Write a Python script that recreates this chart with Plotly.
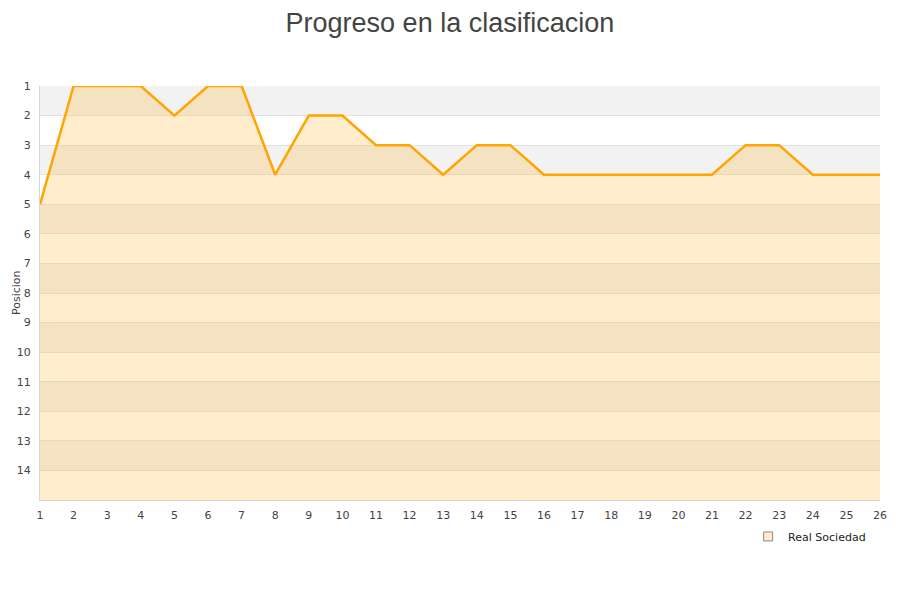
import plotly.graph_objects as go

jornadas = list(range(1, 27))
posiciones = [5, 1, 1, 1, 2, 1, 1, 4, 2, 2, 3, 3, 4, 3, 3, 4, 4, 4, 4, 4, 4, 3, 3, 4, 4, 4]
y_ticks = list(range(1, 15))
y_bottom = 15
team = "Real Sociedad"

fig = go.Figure()

# baseline for the fill
fig.add_trace(go.Scatter(x=jornadas, y=[y_bottom] * len(jornadas), mode="lines",
                         line=dict(width=0, color="rgba(0,0,0,0)"),
                         showlegend=False, hoverinfo="skip"))
fig.add_trace(go.Scatter(x=jornadas, y=posiciones, mode="lines", fill="tonexty",
                         fillcolor="rgba(255,165,0,0.2)",
                         line=dict(color="#ffa500", width=2.5),
                         showlegend=False, name=team, cliponaxis=False))
# legend entry
fig.add_trace(go.Scatter(x=[None], y=[None], mode="markers", name=team,
                         marker=dict(symbol="square", size=9, color="#ffedcc",
                                     line=dict(color="#888888", width=1))))

shapes = []
for i, v in enumerate(range(1, y_bottom)):
    if i % 2 == 0:
        shapes.append(dict(type="rect", xref="paper", yref="y", x0=0, x1=1,
                           y0=v, y1=v + 1, fillcolor="#f2f2f2", line=dict(width=0),
                           layer="below"))

fig.update_layout(
    width=900, height=600,
    paper_bgcolor="white", plot_bgcolor="white",
    margin=dict(l=32, r=28, t=78, b=108, autoexpand=False),
    title=dict(text="Progreso en la clasificacion", x=0.491, xanchor="center",
               y=0.992, yanchor="top", automargin=False, pad=dict(t=0, b=0),
               font=dict(family="Liberation Sans, Arial", size=27, color="#444444")),
    font=dict(family="DejaVu Sans", size=11, color="#444444"),
    shapes=shapes,
    annotations=[dict(text="Posicion", xref="paper", yref="paper", x=-24 / 840, y=0.5,
                      xanchor="center", yanchor="middle", textangle=-90, showarrow=False,
                      font=dict(size=11, color="#444444"))],
    xaxis=dict(range=[1, 26], tickvals=jornadas, showgrid=False, zeroline=False,
               showline=True, linecolor="#d8d8d8", linewidth=1, ticks="",
               automargin=False, ticklabelstandoff=5,
               tickfont=dict(size=11, color="#444444"), mirror=False),
    yaxis=dict(range=[y_bottom, 1], tickvals=y_ticks, showgrid=True,
               gridcolor="#e3e3e3", gridwidth=1, zeroline=False,
               showline=True, linecolor="#d8d8d8", linewidth=1, ticks="",
               automargin=False, ticklabelstandoff=6,
               tickfont=dict(size=11, color="#444444")),
    legend=dict(x=0.843, y=-0.053, xanchor="left", yanchor="top",
                font=dict(size=11, color="#222222"), bgcolor="rgba(0,0,0,0)"),
    showlegend=True,
)

fig.write_html("out.html")
